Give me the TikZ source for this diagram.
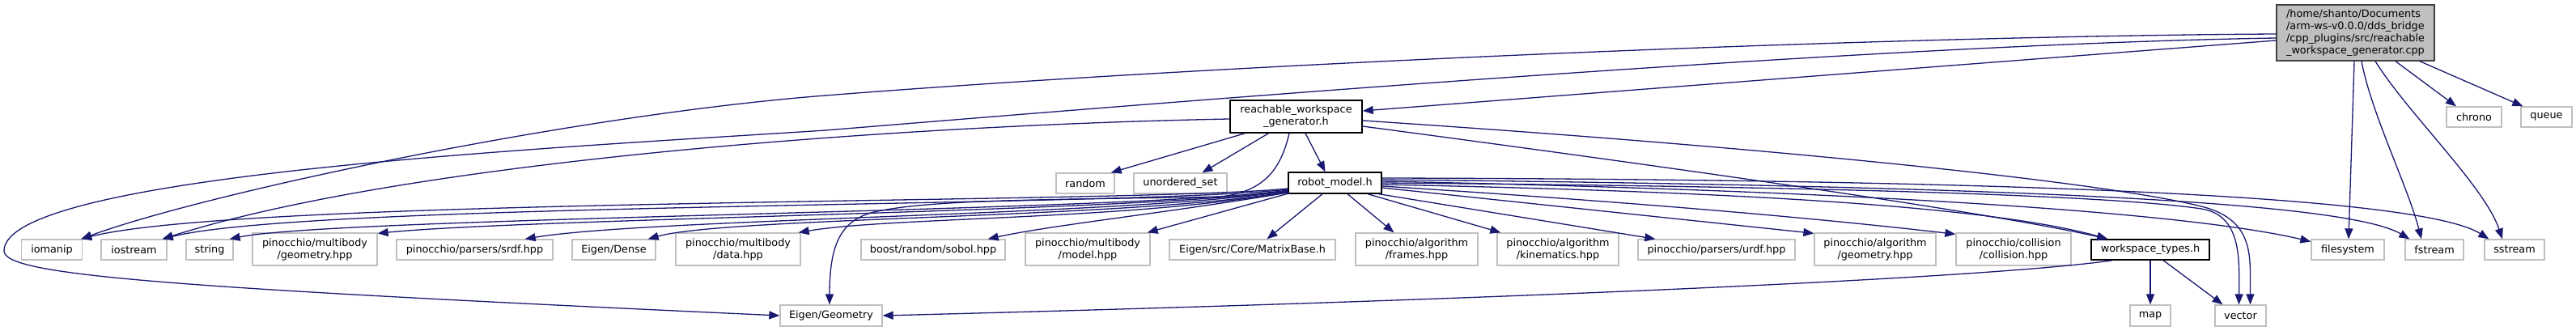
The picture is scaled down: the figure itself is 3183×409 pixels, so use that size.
\documentclass[tikz,border=0pt]{standalone}
\usepackage{fontspec}
\setmainfont{DejaVu Sans}
\usetikzlibrary{arrows.meta,calc}
\definecolor{edgeblue}{HTML}{191970}
\definecolor{extgray}{HTML}{BFBFBF}
\definecolor{rootfill}{HTML}{BFBFBF}
\definecolor{rootdraw}{HTML}{404040}
\begin{document}
\begin{tikzpicture}[x=1pt,y=-1pt,
  box/.style={inner sep=0pt, align=center, font=\fontsize{12.8}{15}\selectfont, fill=white},
  ext/.style={box, draw=extgray, line width=1.3pt},
  int/.style={box, draw=black, line width=1.4pt},
  rootbox/.style={box, draw=rootdraw, fill=rootfill, line width=1.4pt, align=left},
  one/.style={minimum height=25pt},
  two/.style={minimum height=40pt},
  edge/.style={draw=edgeblue, line width=1.3pt, -{Triangle[length=13pt,width=10pt]}}]
\useasboundingbox (0,0) rectangle (3183,409);

% nodes
\node[rootbox, minimum width=195pt, minimum height=69pt] (root) at (2910.5,40.5)
  {/home/shanto/Documents\\/arm-ws-v0.0.0/dds\_bridge\\/cpp\_plugins/src/reachable\\\_workspace\_generator.cpp};
\node[int, two, minimum width=163pt] (reach) at (1601.5,144) {reachable\_workspace\\\_generator.h};
\node[int, minimum width=115pt, minimum height=26pt] (robot) at (1649.5,226) {robot\_model.h};
\node[ext, one, minimum width=72pt] (random) at (1341,226.5) {random};
\node[ext, one, minimum width=115pt] (uset) at (1458.5,226.5) {unordered\_set};
\node[ext, one, minimum width=68pt] (chrono) at (3057,144.5) {chrono};
\node[ext, one, minimum width=63pt] (queue) at (3146.5,144.5) {queue};

\node[ext, one, minimum width=75pt] (iomanip) at (64,308.5) {iomanip};
\node[ext, one, minimum width=81pt] (iostream) at (165.5,308.5) {iostream};
\node[ext, one, minimum width=58pt] (string) at (259,308.5) {string};
\node[ext, two, minimum width=154pt] (mgeom) at (389,308) {pinocchio/multibody\\/geometry.hpp};
\node[ext, one, minimum width=193pt] (srdf) at (586.5,308.5) {pinocchio/parsers/srdf.hpp};
\node[ext, one, minimum width=103pt] (edense) at (758.5,308.5) {Eigen/Dense};
\node[ext, two, minimum width=154pt] (mdata) at (912,308) {pinocchio/multibody\\/data.hpp};
\node[ext, one, minimum width=178pt] (sobol) at (1153,308.5) {boost/random/sobol.hpp};
\node[ext, two, minimum width=154pt] (mmodel) at (1344,308) {pinocchio/multibody\\/model.hpp};
\node[ext, one, minimum width=205pt] (mbase) at (1547.5,308.5) {Eigen/src/Core/MatrixBase.h};
\node[ext, two, minimum width=151pt] (frames) at (1750.5,308) {pinocchio/algorithm\\/frames.hpp};
\node[ext, two, minimum width=150pt] (kin) at (1925,308) {pinocchio/algorithm\\/kinematics.hpp};
\node[ext, one, minimum width=194pt] (urdf) at (2121,308.5) {pinocchio/parsers/urdf.hpp};
\node[ext, two, minimum width=150pt] (ageom) at (2317,308) {pinocchio/algorithm\\/geometry.hpp};
\node[ext, two, minimum width=142pt] (coll) at (2488,308) {pinocchio/collision\\/collision.hpp};
\node[int, one, minimum width=146pt] (wst) at (2657,308.5) {workspace\_types.h};
\node[ext, one, minimum width=90pt] (fsys) at (2901,308.5) {filesystem};
\node[ext, one, minimum width=72pt] (fstream) at (3008,308.5) {fstream};
\node[ext, one, minimum width=74pt] (sstream) at (3107,308.5) {sstream};

\node[ext, minimum height=26pt, minimum width=50pt] (map) at (2657,390) {map};
\node[ext, minimum height=26pt, minimum width=63pt] (vector) at (2768.5,390) {vector};
\node[ext, minimum height=26pt, minimum width=126pt] (egeom) at (1027,390) {Eigen/Geometry};

% root edges
\draw[edge] ($(root.west)+(0,9.5)$) -- ($(reach.east)+(0,-7)$);
\draw[edge] ($(root.west)+(0,1.5)$) .. controls (2300,45) and (1500,80) .. (1020,118)
  .. controls (700,143) and (250,240) .. ($(iomanip.north east)+(-2,0)$);
\draw[edge] ($(root.west)+(0,6.5)$) .. controls (2300,55) and (1400,130) .. (1020,161)
  .. controls (700,182) and (5,215) .. (5,310)
  .. controls (5,340) and (200,355) .. (egeom.west);
\draw[edge] ($(root.south)+(49.5,0)$) -- ($(chrono.north)+(-22,0)$);
\draw[edge] ($(root.south)+(79.5,0)$) -- ($(queue.north west)+(3,0)$);
\draw[edge] ($(root.south)+(-1.5,0)$) -- ($(fsys.north)+(1,0)$);
\draw[edge] ($(root.south)+(7.5,0)$) .. controls (2930,140) and (2975,230) .. ($(fstream.north)+(-16,0)$);
\draw[edge] ($(root.south)+(24.5,0)$) .. controls (2975,140) and (3070,230) .. ($(sstream.north)+(-15,0)$);

% reachable_workspace_generator.h edges
\draw[edge] ($(reach.south)+(11.5,0)$) -- ($(robot.north)+(-12,0)$);
\draw[edge] ($(reach.south)+(-63,0)$) -- ($(random.north east)+(-5,0)$);
\draw[edge] ($(reach.south)+(-34,0)$) -- ($(uset.north)+(27,0)$);
\draw[edge] ($(reach.south)+(-8.5,0)$) .. controls (1582,212) and (1560,236) .. (1510,243)
  .. controls (1300,247) and (1150,246) .. (1080,262)
  .. controls (1040,272) and (1025,300) .. ($(egeom.north)+(-2,0)$);
\draw[edge] ($(reach.west)+(0,3)$) .. controls (1100,155) and (500,200) .. ($(iostream.north east)+(-6,0)$);
\draw[edge] ($(reach.east)+(0,12)$) .. controls (2000,198) and (2450,260) .. ($(wst.north west)+(21,0)$);
\draw[edge] ($(reach.east)+(0,5)$) .. controls (2200,183) and (2600,225) .. (2720,255)
  .. controls (2788,272) and (2780,320) .. ($(vector.north)+(12,0)$);

% robot_model.h edges
\draw[edge] ($(robot.west)+(0,7)$) .. controls (1400,252) and (300,244) .. ($(iomanip.north east)+(-2,0)$);
\draw[edge] ($(robot.west)+(0,8)$) .. controls (1400,256) and (380,250) .. ($(iostream.north east)+(-6,0)$);
\draw[edge] ($(robot.west)+(0,9)$) .. controls (1400,262) and (420,268) .. ($(string.north east)+(-5,0)$);
\draw[edge] ($(robot.west)+(0,10)$) .. controls (1400,262) and (650,270) .. ($(mgeom.north east)+(0,1)$);
\draw[edge] ($(robot.west)+(0,10)$) .. controls (1400,266) and (800,270) .. ($(srdf.north east)+(-35,0)$);
\draw[edge] ($(robot.west)+(0,11)$) .. controls (1400,270) and (900,268) .. ($(edense.north east)+(-10,0)$);
\draw[edge] ($(robot.west)+(0,11)$) .. controls (1400,272) and (1100,268) .. ($(mdata.north east)+(-3,0)$);
\draw[edge] ($(robot.west)+(0,12)$) .. controls (1450,262) and (1300,278) .. ($(sobol.north east)+(-22,0)$);
\draw[edge] ($(robot.south west)+(2,-1)$) -- ($(mmodel.north east)+(-4,0)$);
\draw[edge] ($(robot.south)+(-15.5,0)$) -- ($(mbase.north)+(18,0)$);
\draw[edge] ($(robot.south)+(15.5,0)$) -- ($(frames.north)+(-28,0)$);
\draw[edge] ($(robot.south)+(40.5,0)$) -- ($(kin.north west)+(5,0)$);
\draw[edge] ($(robot.south east)+(-4,0)$) -- ($(urdf.north west)+(22,0)$);
\draw[edge] ($(robot.east)+(0,6)$) -- ($(ageom.north west)+(0,1)$);
\draw[edge] ($(robot.east)+(0,4)$) .. controls (2100,255) and (2300,276) .. ($(coll.north west)+(0,2)$);
\draw[edge] ($(robot.east)+(0,2)$) .. controls (2100,236) and (2450,252) .. ($(wst.north west)+(21,0)$);
\draw[edge] ($(robot.east)+(0,0)$) .. controls (2200,230) and (2600,240) .. (2720,258)
  .. controls (2770,266) and (2767,320) .. ($(vector.north)+(-2,0)$);
\draw[edge] ($(robot.east)+(0,-2)$) .. controls (2300,236) and (2700,262) .. ($(fsys.west)+(0,-10)$);
\draw[edge] ($(robot.east)+(0,-4)$) .. controls (2500,230) and (2900,250) .. ($(fstream.north west)+(6,0)$);
\draw[edge] ($(robot.east)+(0,-6)$) .. controls (2600,222) and (3000,248) .. ($(sstream.north west)+(6,0)$);

% workspace_types.h edges
\draw[edge] (wst.south) -- (map.north);
\draw[edge] ($(wst.south)+(16,0)$) -- ($(vector.north)+(-22,0)$);
\draw[edge] ($(wst.south west)+(27,0)$) .. controls (2450,345) and (1800,372) .. (egeom.east);
\end{tikzpicture}
\end{document}
